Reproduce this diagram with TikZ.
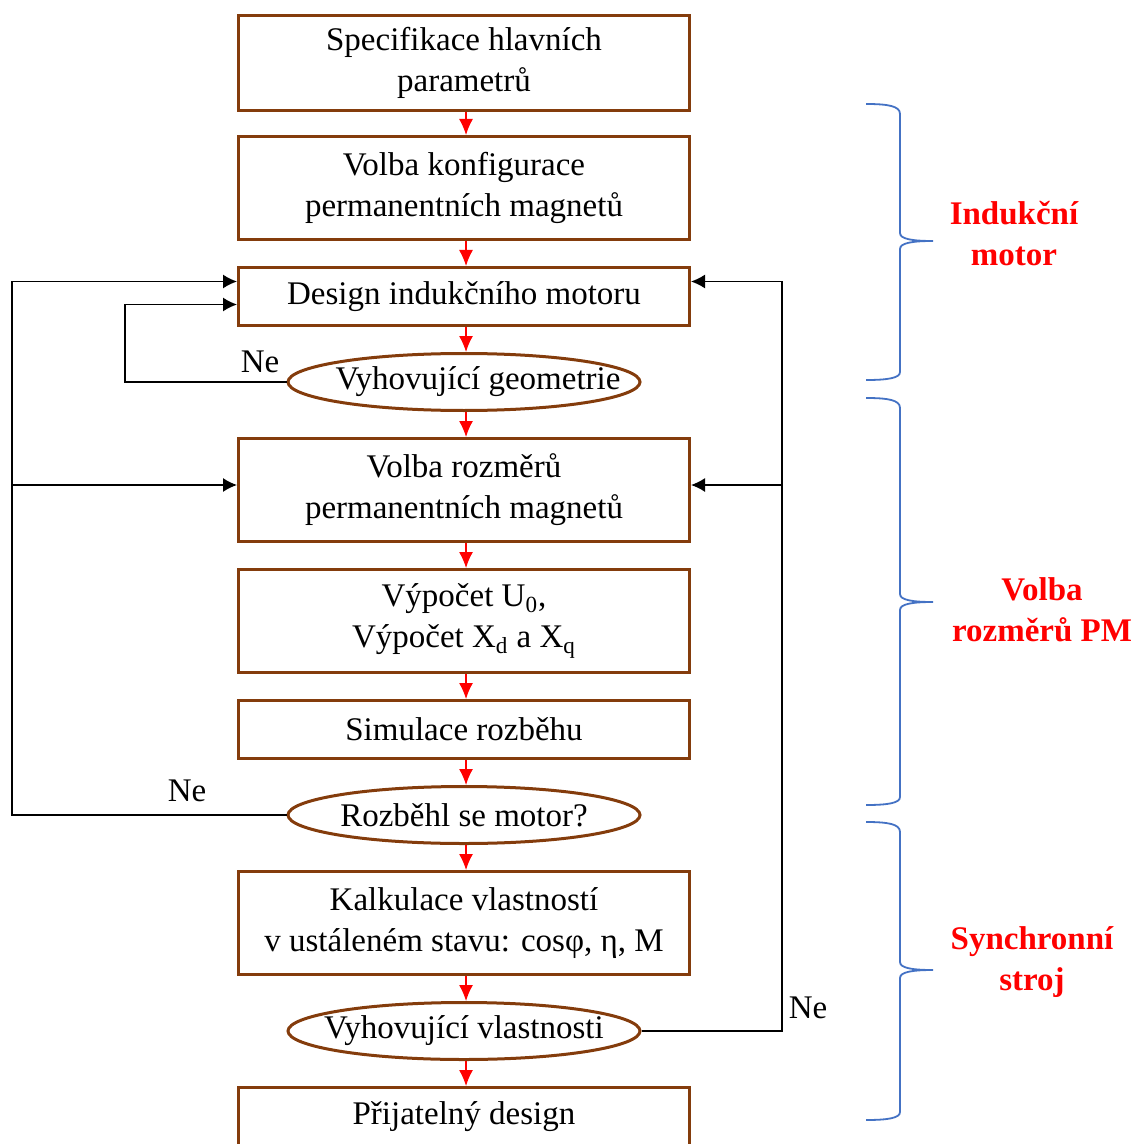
\documentclass[tikz,border=0pt]{standalone}
\usepackage{fontspec}
\setmainfont{Liberation Serif}
\usetikzlibrary{positioning,arrows.meta,shapes.geometric}
\definecolor{BoxBrown}{HTML}{843C0C}
\definecolor{BraceBlue}{HTML}{4472C4}
\definecolor{FlowRed}{HTML}{FF0000}
\tikzset{
  blok/.style={rectangle, draw=BoxBrown, line width=1.5pt, fill=white,
    minimum width=225.5pt, align=center, inner sep=2pt,
    font=\fontsize{16.5}{20.5}\selectfont},
  blok1/.style={blok, minimum height=29pt},
  blok2/.style={blok, minimum height=51.5pt},
  rozhod/.style={ellipse, draw=BoxBrown, line width=1.5pt, fill=white,
    minimum width=176pt, minimum height=28.5pt, inner xsep=-10pt, inner ysep=0pt,
    font=\fontsize{16.5}{20.5}\selectfont},
  tok/.style={-{Latex[length=8pt,width=7pt]}, FlowRed, line width=0.6pt},
  zpet/.style={-{Latex[length=7pt,width=7pt]}, black, line width=0.75pt},
  ne/.style={font=\fontsize{16.5}{20.5}\selectfont, inner sep=0pt},
  zavorka/.style={BraceBlue, line width=0.9pt},
  skupina/.style={text=FlowRed, align=center,
    font=\bfseries\fontsize{16.5}{20.5}\selectfont}
}

\begin{document}
\begin{tikzpicture}[x=0.5pt, y=-0.5pt, node distance=12.5pt]
    \useasboundingbox (0,0) rectangle (1136,1144);

    \node[blok, minimum height=47.5pt] (s1) at (464,63) {Specifikace hlavních\\parametrů};
    \node[blok2, below=11.5pt of s1] (s2) {Volba konfigurace\\permanentních magnetů};
    \node[blok1, below=of s2] (s3) {Design indukčního motoru};
    \node[rozhod, inner xsep=-17pt, below=of s3] (q1) {\hspace{14pt}Vyhovující geometrie};
    \node[blok2, below=of q1] (s4) {Volba rozměrů\\permanentních magnetů};
    \node[blok2, below=of s4] (s5) {Výpočet U\textsubscript{0},\\Výpočet X\textsubscript{d} a X\textsubscript{q}};
    \node[blok1, below=of s5] (s6) {Simulace rozběhu};
    \node[rozhod, below=of s6] (q2) {Rozběhl se motor?};
    \node[blok2, below=of q2] (s7) {Kalkulace vlastností\\v ustáleném stavu: cosφ, η, M};
    \node[rozhod, below=of s7] (q3) {Vyhovující vlastnosti};
    \node[blok1, below=of q3] (s8) {Přijatelný design};

    \draw[tok] ([xshift=1pt]s1.south) -- ([xshift=1pt]s2.north);
    \draw[tok] ([xshift=1pt]s2.south) -- ([xshift=1pt]s3.north);
    \draw[tok] ([xshift=1pt]s3.south) -- ([xshift=1pt]q1.north);
    \draw[tok] ([xshift=1pt]q1.south) -- ([xshift=1pt]s4.north);
    \draw[tok] ([xshift=1pt]s4.south) -- ([xshift=1pt]s5.north);
    \draw[tok] ([xshift=1pt]s5.south) -- ([xshift=1pt]s6.north);
    \draw[tok] ([xshift=1pt]s6.south) -- ([xshift=1pt]q2.north);
    \draw[tok] ([xshift=1pt]q2.south) -- ([xshift=1pt]s7.north);
    \draw[tok] ([xshift=1pt]s7.south) -- ([xshift=1pt]q3.north);
    \draw[tok] ([xshift=1pt]q3.south) -- ([xshift=1pt]s8.north);

    % zpetne vazby
    \coordinate (lx) at (12,0);
    \coordinate (ix) at (125,0);
    \coordinate (rx) at (782,0);
    \coordinate (s3a) at ([yshift=7.5pt]s3.west);
    \coordinate (s3b) at ([yshift=-4pt]s3.west);
    \coordinate (s3c) at ([yshift=7.5pt]s3.east);
    \coordinate (s4a) at ([yshift=2.5pt]s4.west);
    \coordinate (s4c) at ([yshift=2.5pt]s4.east);

    \draw[zpet] (q1.west) -- (q1.west -| ix) -- (ix |- s3b) -- (s3b);
    \draw[zpet] (q2.west) -- (q2.west -| lx) -- (lx |- s3a) -- (s3a);
    \draw[zpet] (lx |- s4a) -- (s4a);
    \draw[zpet] (q3.east) -- (q3.east -| rx) -- (rx |- s3c) -- (s3c);
    \draw[zpet] (rx |- s4c) -- (s4c);

    \node[ne] (n1) at (260,362) {Ne};
    \node[ne] (n2) at (187,791) {Ne};
    \node[ne] (n3) at (808,1008) {Ne};

    % zavorky
    \draw[zavorka] (866,104) .. controls (888,104) and (900,106) .. (900,114) -- (900,233)
      .. controls (900,239) and (912,241) .. (933,241) .. controls (912,241) and (900,243) .. (900,249)
      -- (900,372) .. controls (900,378) and (888,380) .. (866,380);
    \draw[zavorka] (866,398) .. controls (888,398) and (900,400) .. (900,408) -- (900,594)
      .. controls (900,600) and (912,602) .. (933,602) .. controls (912,602) and (900,604) .. (900,610)
      -- (900,797) .. controls (900,803) and (888,805) .. (866,805);
    \draw[zavorka] (866,822) .. controls (888,822) and (900,824) .. (900,832) -- (900,962)
      .. controls (900,968) and (912,970) .. (933,970) .. controls (912,970) and (900,972) .. (900,978)
      -- (900,1112) .. controls (900,1118) and (888,1120) .. (866,1120);

    \node[skupina] (g1) at (1014,234) {Indukční\\motor};
    \node[skupina] (g2) at (1042,610) {Volba\\rozměrů PM};
    \node[skupina] (g3) at (1032,962) {Synchronní\\stroj};
  \end{tikzpicture}
\end{document}
